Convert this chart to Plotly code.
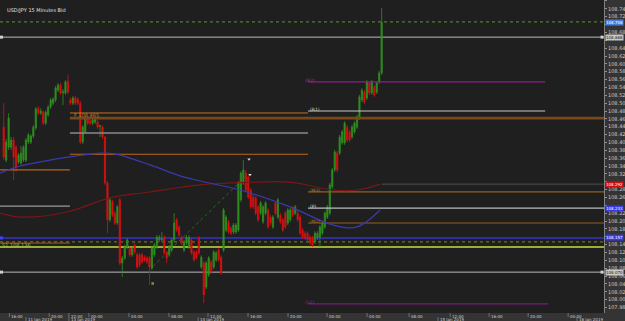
import plotly.graph_objects as go

title_text = "USD/JPY 15 Minutes Bid"

opens = [108.439,108.355,108.388,108.388,108.406,108.388,108.350,108.348,108.355,108.355,
         108.401,108.401,108.416,108.437,108.487,108.475,108.477,108.449,108.470,108.490,
         108.500,108.508,108.533,108.546,108.526,108.526,108.556,108.508,108.500,108.513,
         108.510,108.500,108.401,108.427,108.462,108.454,108.449,108.452,108.452,108.441,
         108.439,108.414,108.297,108.203,108.249,108.220,108.195,108.254,108.093,108.106,
         108.134,108.131,108.114,108.139,108.114,108.114,108.114,108.108,108.106,108.106,
         108.080,108.114,108.134,108.152,108.152,108.159,108.119,108.114,108.126,108.152,
         108.203,108.185,108.159,108.126,108.144,108.134,108.152,108.121,108.121,108.157,
         108.083,108.093,108.032,108.063,108.096,108.083,108.101,108.126,108.108,108.126,
         108.177,108.198,108.182,108.172,108.172,108.177,108.254,108.297,108.322,108.312,
         108.279,108.261,108.259,108.236,108.220,108.198,108.220,108.228,108.210,108.185,
         108.246,108.210,108.215,108.203,108.220,108.195,108.203,108.233,108.220,108.220,
         108.210,108.177,108.169,108.169,108.159,108.157,108.147,108.157,108.159,108.169,
         108.185,108.210,108.220,108.287,108.330,108.373,108.373,108.399,108.399,108.439,
         108.427,108.414,108.427,108.439,108.462,108.508,108.528,108.513,108.551,108.526,
         108.541,108.528,108.554,108.577]
highs = [108.500,108.409,108.475,108.414,108.414,108.393,108.373,108.391,108.393,108.411,
         108.424,108.421,108.444,108.490,108.492,108.487,108.482,108.482,108.495,108.513,
         108.515,108.544,108.551,108.551,108.536,108.559,108.572,108.513,108.518,108.518,
         108.515,108.505,108.444,108.467,108.467,108.459,108.462,108.464,108.457,108.444,
         108.444,108.416,108.302,108.259,108.254,108.225,108.241,108.259,108.111,108.139,
         108.157,108.136,108.136,108.144,108.119,108.119,108.119,108.113,108.111,108.111,
         108.136,108.144,108.164,108.164,108.172,108.164,108.124,108.139,108.157,108.220,
         108.208,108.190,108.164,108.152,108.164,108.164,108.157,108.126,108.126,108.162,
         108.113,108.098,108.098,108.111,108.101,108.126,108.124,108.131,108.113,108.233,
         108.215,108.203,108.187,108.195,108.195,108.302,108.327,108.355,108.330,108.317,
         108.284,108.266,108.264,108.241,108.251,108.241,108.251,108.233,108.215,108.215,
         108.251,108.259,108.220,108.208,108.225,108.233,108.233,108.238,108.241,108.225,
         108.215,108.182,108.174,108.174,108.164,108.162,108.174,108.174,108.190,108.200,
         108.225,108.241,108.297,108.335,108.381,108.378,108.419,108.432,108.454,108.444,
         108.432,108.444,108.454,108.470,108.521,108.538,108.533,108.559,108.556,108.559,
         108.546,108.556,108.582,108.742]
lows = [108.355,108.350,108.381,108.381,108.304,108.325,108.345,108.343,108.350,108.350,
        108.396,108.396,108.411,108.432,108.470,108.470,108.444,108.444,108.465,108.485,
        108.495,108.503,108.528,108.521,108.495,108.521,108.523,108.495,108.495,108.495,
        108.495,108.396,108.396,108.422,108.444,108.444,108.444,108.447,108.434,108.414,
        108.409,108.292,108.169,108.198,108.210,108.190,108.190,108.088,108.058,108.101,
        108.129,108.109,108.109,108.116,108.078,108.083,108.091,108.096,108.091,108.037,
        108.075,108.109,108.129,108.147,108.147,108.114,108.093,108.109,108.121,108.147,
        108.172,108.159,108.139,108.121,108.139,108.129,108.114,108.096,108.101,108.114,
        108.078,107.991,108.027,108.058,108.065,108.078,108.096,108.096,108.063,108.121,
        108.172,108.167,108.164,108.167,108.167,108.172,108.249,108.292,108.274,108.256,
        108.231,108.231,108.215,108.198,108.215,108.193,108.215,108.180,108.190,108.180,
        108.215,108.205,108.193,108.172,108.180,108.190,108.198,108.210,108.215,108.198,
        108.164,108.154,108.152,108.147,108.139,108.134,108.142,108.152,108.134,108.164,
        108.180,108.205,108.215,108.282,108.325,108.325,108.368,108.394,108.394,108.401,
        108.401,108.409,108.422,108.434,108.457,108.503,108.498,108.508,108.521,108.521,
        108.516,108.523,108.549,108.572]
closes = [108.363,108.401,108.462,108.406,108.363,108.337,108.368,108.373,108.388,108.406,
          108.419,108.416,108.439,108.485,108.475,108.480,108.449,108.477,108.490,108.508,
          108.510,108.539,108.546,108.526,108.529,108.554,108.528,108.500,108.513,108.500,
          108.500,108.401,108.439,108.462,108.449,108.449,108.457,108.459,108.439,108.443,
          108.414,108.297,108.203,108.254,108.215,108.195,108.236,108.093,108.106,108.134,
          108.152,108.114,108.131,108.121,108.083,108.088,108.096,108.101,108.096,108.083,
          108.131,108.139,108.159,108.159,108.154,108.119,108.106,108.134,108.152,108.195,
          108.177,108.164,108.144,108.147,108.159,108.159,108.119,108.101,108.106,108.119,
          108.108,108.012,108.093,108.106,108.070,108.121,108.119,108.101,108.068,108.228,
          108.210,108.172,108.169,108.190,108.190,108.297,108.322,108.330,108.279,108.261,
          108.236,108.236,108.220,108.203,108.246,108.236,108.246,108.185,108.195,108.210,
          108.220,108.254,108.198,108.177,108.185,108.228,108.228,108.215,108.236,108.203,
          108.169,108.159,108.157,108.152,108.144,108.139,108.169,108.169,108.185,108.195,
          108.220,108.236,108.292,108.330,108.376,108.330,108.414,108.427,108.449,108.406,
          108.406,108.439,108.449,108.465,108.516,108.533,108.503,108.554,108.526,108.554,
          108.521,108.551,108.577,108.706]
bars = list(range(len(opens)))

# moving averages (bar index, price)
red_ma_x = [-1.5, 6.6, 25.6, 43, 59.2, 79.5, 102.5, 115.9, 133.3, 143, 152.4]
red_ma_y = [108.220, 108.210, 108.223, 108.259, 108.274, 108.292, 108.299, 108.299, 108.279, 108.279, 108.294]
blue_ma_x = [-1.5, 6.6, 18.7, 28.9, 39, 45, 59.2, 71.4, 79.5, 95.7, 115.9, 133.3, 143, 152.4]
blue_ma_y = [108.322, 108.340, 108.355, 108.365, 108.373, 108.371, 108.343, 108.315, 108.302,
             108.279, 108.236, 108.190, 108.185, 108.228]
trend_x = [60.5, 98.5]
trend_y = [108.085, 108.317]

# full-width levels
full_levels = [108.707, 108.668, 108.157, 108.147, 108.134, 108.070]
full_styles = [dict(color="#4f7f2a", width=1.2, dash="dot"),
               dict(color="#bdbdbd", width=1),
               dict(color="#3535c8", width=1.5),
               dict(color="#6f6f2c", width=1.2, dash="dot"),
               dict(color="#c6e040", width=1.5),
               dict(color="#bdbdbd", width=1)]

# partial levels: price, first bar, last bar
seg_price = [108.475, 108.462, 108.424, 108.370, 108.330, 108.238, 108.144,
             108.554, 108.480, 108.274, 108.233, 108.195, 107.989, 108.294]
seg_from = [26.8, 26.8, 26.8, 26.8, -1.5, -1.5, -1.5,
            123.2, 123.2, 123.2, 123.2, 123.2, 123.2, 153]
seg_to = [123.2, 243, 123.2, 123.2, 26.8, 26.8, 26.8,
          219.2, 219.2, 243, 243, 243, 220.4, 243]
seg_styles = [dict(color="#c8701e", width=1),
              dict(color="#7a4818", width=2.6),
              dict(color="#8a8a8a", width=1.4),
              dict(color="#c0661a", width=1.2),
              dict(color="#b8661c", width=1.2),
              dict(color="#9a9a9a", width=1.4),
              dict(color="#a0601a", width=1),
              dict(color="#8e1c8e", width=1.2),
              dict(color="#c8c8c8", width=1.2),
              dict(color="#9a5c1c", width=1.2),
              dict(color="#bdbdbd", width=1.2),
              dict(color="#9a5c1c", width=1.2),
              dict(color="#7a1a7a", width=1.2),
              dict(color="#505050", width=1)]

pivot_labels = ["(R2)", "(R1)", "(M3)", "(P)", "(M2)", "(S2)"]
pivot_prices = [108.554, 108.480, 108.274, 108.233, 108.195, 107.989]
pivot_colors = ["#a030a0", "#d0d0d0", "#b07030", "#d0d0d0", "#b07030", "#8e2a8e"]

price_ticks = ["107.98","108.00","108.02","108.04","108.06","108.08","108.10","108.12","108.14",
               "108.16","108.18","108.20","108.22","108.24","108.26","108.28","108.30","108.32",
               "108.34","108.36","108.38","108.40","108.42","108.44","108.46","108.48","108.50",
               "108.52","108.54","108.56","108.58","108.60","108.62","108.64","108.66","108.68",
               "108.70","108.72","108.74","108.76"]

box_prices = [108.706, 108.668, 108.292, 108.233, 108.157, 108.070]
box_text = ["108.706", "108.668", "108.292", "108.233", "108.157", "108.070"]
box_colors = ["#4a7fd8", "#c8c8c8", "#c81010", "#3a3ae0", "#3a3ae0", "#c8c8c8"]
box_font = ["#ffffff", "#202020", "#ffffff", "#ffffff", "#ffffff", "#202020"]

time_labels = ["16:00", "20:00", "22:00", "00:00", "04:00", "08:00", "12:00", "16:00",
               "20:00", "00:00", "04:00", "08:00", "12:00", "16:00", "20:00", "00:00"]
time_pos = [2.3, 18.4, 26.4, 34.5, 50.7, 66.9, 82.7, 98.9, 115.1, 130.9, 147.1, 164.1,
            180.7, 196.5, 212.3, 228.5]
date_labels = ["11 Jan 2019", "13 Jan 2019", "14 Jan 2019", "15 Jan 2019", "16 Jan 2019"]
date_pos = [9.0, 26.4, 78.7, 175.8, 232.1]

fig = go.Figure()

for p, a, b, st in zip(seg_price, seg_from, seg_to, seg_styles):
    fig.add_trace(go.Scatter(x=[a, b], y=[p, p], mode="lines", line=st, hoverinfo="skip"))

for p, st in zip(full_levels, full_styles):
    fig.add_shape(type="line", xref="paper", x0=0, x1=1, yref="y", y0=p, y1=p, line=st, layer="below")

fig.add_trace(go.Scatter(x=red_ma_x, y=red_ma_y, mode="lines",
                         line=dict(color="#7a1616", width=1.2, shape="spline"), hoverinfo="skip"))
fig.add_trace(go.Scatter(x=blue_ma_x, y=blue_ma_y, mode="lines",
                         line=dict(color="#3a3ab0", width=1.2, shape="spline"), hoverinfo="skip"))
fig.add_trace(go.Scatter(x=trend_x, y=trend_y, mode="lines",
                         line=dict(color="#2f7a2f", width=0.8, dash="dot"), hoverinfo="skip"))

fig.add_trace(go.Candlestick(
    x=bars, open=opens, high=highs, low=lows, close=closes,
    increasing=dict(line=dict(color="#2f8f1f", width=0.8), fillcolor="#2f8f1f"),
    decreasing=dict(line=dict(color="#d81010", width=0.8), fillcolor="#d81010"),
    whiskerwidth=0, hoverinfo="skip"))

# small markers
fig.add_trace(go.Scatter(x=[-0.9, -0.9, 242.2, 242.2], y=[108.668, 108.070, 108.668, 108.070],
                         mode="markers", marker=dict(symbol="square", size=3, color="#d0d0d0"),
                         hoverinfo="skip"))
fig.add_trace(go.Scatter(x=[-0.9], y=[108.157], mode="markers",
                         marker=dict(symbol="square", size=3, color="#4040ff"), hoverinfo="skip"))
fig.add_trace(go.Scatter(x=[99.3, 99.7], y=[108.357, 108.318], mode="markers",
                         marker=dict(symbol="triangle-down", size=3, color="#e0e0e0"), hoverinfo="skip"))
fig.add_trace(go.Scatter(x=[60.3], y=[108.041], mode="markers",
                         marker=dict(symbol="square", size=2.5, color="#7a9a3a"), hoverinfo="skip"))

ann = []
ann.append(dict(text=title_text, xref="paper", yref="paper", x=0.009, y=0.985, xanchor="left",
                yanchor="top", showarrow=False, font=dict(size=5, color="#e0e0e0")))
ann.append(dict(text="F 108.465", xref="x", yref="y", x=27.5, y=108.469, xanchor="left",
                yanchor="middle", showarrow=False, font=dict(size=5, color="#c87a2a")))
ann.append(dict(text="S1 108.136", xref="x", yref="y", x=-1.3, y=108.140, xanchor="left",
                yanchor="middle", showarrow=False, font=dict(size=5, color="#a8b840")))
for lab, p, c in zip(pivot_labels, pivot_prices, pivot_colors):
    xx = 121.0 if c.startswith("#8e") or c.startswith("#a0") else 123.2
    ann.append(dict(text=lab, xref="x", yref="y", x=xx, y=p + 0.003, xanchor="left",
                    yanchor="middle", showarrow=False, font=dict(size=4.5, color=c)))
for p, t, bc, fc in zip(box_prices, box_text, box_colors, box_font):
    ann.append(dict(text=t, xref="paper", yref="y", x=1.0, y=p, xanchor="left", yanchor="middle",
                    xshift=1, showarrow=False, bgcolor=bc, borderpad=0,
                    font=dict(size=4, color=fc)))
for t, xp in zip(time_labels, time_pos):
    ann.append(dict(text=t, xref="x", yref="paper", x=xp, y=0, xanchor="left", yanchor="top",
                    xshift=1, yshift=0, showarrow=False, borderpad=0,
                    font=dict(size=4, color="#d0d0d0")))
for t, xp in zip(date_labels, date_pos):
    ann.append(dict(text=t, xref="x", yref="paper", x=xp, y=0, xanchor="left", yanchor="top",
                    xshift=1, yshift=-3.2, showarrow=False, borderpad=0,
                    font=dict(size=4, color="#d0d0d0")))

shapes = []
for xp in time_pos:
    shapes.append(dict(type="line", xref="x", yref="paper", x0=xp, x1=xp, y0=0, y1=-0.013,
                       line=dict(color="#9a9a9a", width=0.6)))
for xp in date_pos:
    shapes.append(dict(type="line", xref="x", yref="paper", x0=xp, x1=xp, y0=-0.013, y1=-0.026,
                       line=dict(color="#9a9a9a", width=0.6)))
for s in shapes:
    fig.add_shape(**s)

# tick labels hidden where a price box covers them (as in the reference)
tick_vals = [float(v) for v in price_ticks]
tick_text = [("" if min(abs(v - b) for b in box_prices) < 0.0085 else t)
             for v, t in zip(tick_vals, price_ticks)]

fig.update_layout(
    width=625, height=321,
    margin=dict(l=0, r=21, t=0, b=8),
    paper_bgcolor="#343434", plot_bgcolor="#1f1f1f",
    showlegend=False, annotations=ann,
    xaxis=dict(range=[-1.5, 243.0], showgrid=False, zeroline=False, showticklabels=False,
               rangeslider=dict(visible=False), fixedrange=True, showline=False),
    yaxis=dict(range=[107.966, 108.7625], side="right", showgrid=False, zeroline=False,
               tickvals=tick_vals, ticktext=tick_text,
               tickfont=dict(size=5, color="#c8c8c8", family="DejaVu Sans"),
               ticks="outside", ticklen=2, tickcolor="#909090",
               showline=True, linecolor="#808080", linewidth=1),
    font=dict(family="DejaVu Sans"),
)

fig.write_html("out.html")
